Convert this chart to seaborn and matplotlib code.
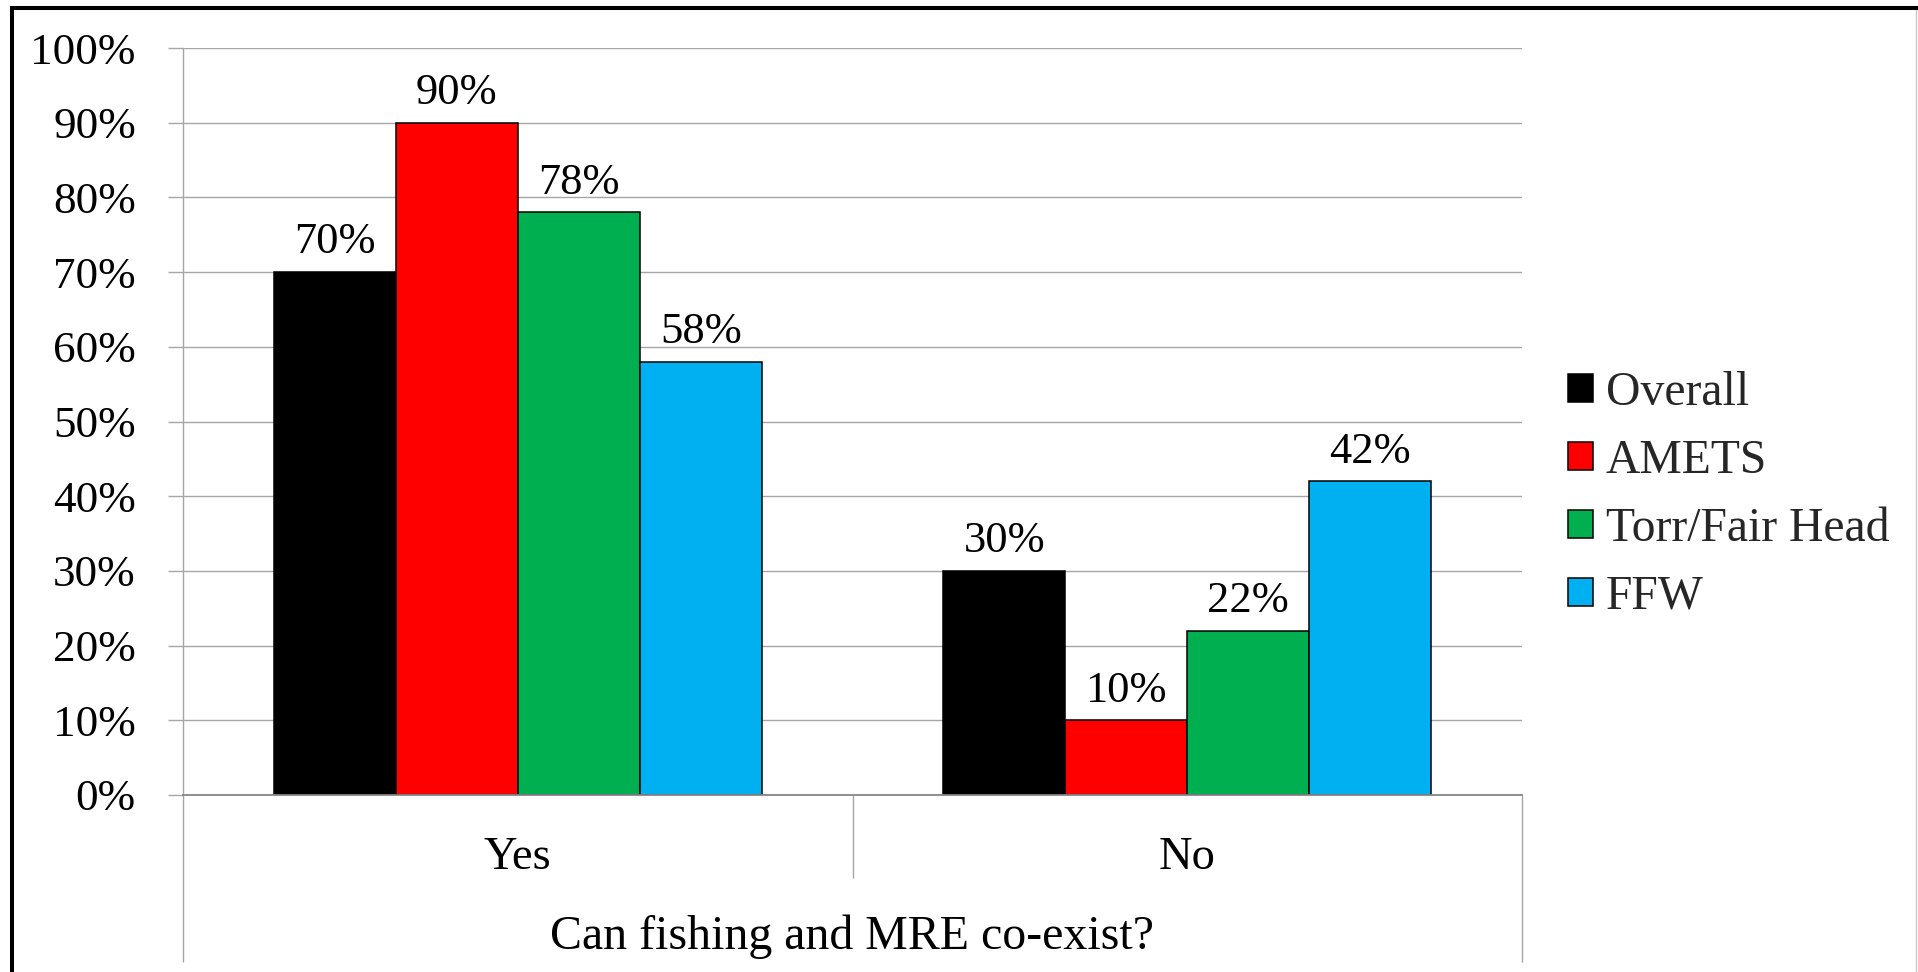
import matplotlib
matplotlib.use("Agg")
import matplotlib.pyplot as plt
import numpy as np
import pandas as pd
import seaborn as sns
from matplotlib.lines import Line2D
from matplotlib.patches import Patch

# Survey answers and the share of respondents per site (percent)
answers = ["Yes", "No"]
sites = ["Overall", "AMETS", "Torr/Fair Head", "FFW"]
overall = [70, 30]
amets = [90, 10]
torr_fair_head = [78, 22]
ffw = [58, 42]
site_colors = ["#000000", "#FF0000", "#00B050", "#00B0F0"]
y_ticks = [0, 10, 20, 30, 40, 50, 60, 70, 80, 90, 100]
question = "Can fishing and MRE co-exist?"

series = {"Overall": overall, "AMETS": amets,
          "Torr/Fair Head": torr_fair_head, "FFW": ffw}
df = pd.DataFrame(
    [(ans, site, vals[i]) for site, vals in series.items()
     for i, ans in enumerate(answers)],
    columns=["answer", "site", "share"],
)

sns.set_theme(style="white")
plt.rcParams["font.family"] = ["Liberation Serif", "DejaVu Serif"]

W, H = 1918, 972
fig = plt.figure(figsize=(W / 100, H / 100), dpi=100)
fig.patch.set_facecolor("white")

# plot area in pixel terms
x0, x1, y_top, y_base = 183, 1522, 48, 795
ax = fig.add_axes([x0 / W, 1 - y_base / H, (x1 - x0) / W, (y_base - y_top) / H])

grid_gray = "#A6A6A6"
axis_gray = "#868686"
fs_tick = 32.5
fs_val = 32
fs_cat = 33.5
fs_title = 34.5
fs_leg = 34.3

sns.barplot(
    data=df, x="answer", y="share", hue="site",
    order=answers, hue_order=sites, palette=site_colors,
    width=0.729, saturation=1, edgecolor="black", linewidth=1.1,
    errorbar=None, legend=False, ax=ax,
)

ax.set_xlim(-0.5, 1.5)
ax.set_ylim(0, 100)
ax.set_xlabel("")
ax.set_ylabel("")
ax.set_facecolor("white")

# horizontal gridlines behind the bars
ax.set_axisbelow(True)
ax.yaxis.grid(True, color=grid_gray, linewidth=1.0)
ax.xaxis.grid(False)

for side in ("top", "right"):
    ax.spines[side].set_visible(False)
ax.spines["left"].set_color(grid_gray)
ax.spines["left"].set_linewidth(1.0)
ax.spines["bottom"].set_color(axis_gray)
ax.spines["bottom"].set_linewidth(1.3)

ax.set_yticks(y_ticks)
ax.set_yticklabels([f"{t}%" for t in y_ticks])
ax.tick_params(axis="y", left=True, length=11, width=1.0, color=grid_gray,
               pad=23, labelsize=fs_tick, labelcolor="black")
ax.set_xticks([])

# value labels above each bar
for cont in ax.containers:
    ax.bar_label(cont, fmt="%.0f%%", padding=7, fontsize=fs_val, color="black")

# category labels and the multi-level category axis
xt = ax.get_xaxis_transform()
span = y_base - y_top
for i, ans in enumerate(answers):
    ax.text(i, -(869 - y_base) / span, ans, transform=xt, ha="center",
            va="baseline", fontsize=fs_cat, color="black")
ax.text(0.5, -(949 - y_base) / span, question, transform=xt, ha="center",
        va="baseline", fontsize=fs_title, color="black")

long_drop = -(962 - y_base) / span
short_drop = -(878 - y_base) / span
for xv, yd in ((-0.5, long_drop), (0.5, short_drop), (1.5, long_drop)):
    ax.plot([xv, xv], [0, yd], transform=xt, color=grid_gray, lw=1.0,
            clip_on=False, solid_capstyle="butt")

# legend on the right
handles = [Patch(facecolor=c, edgecolor="black", linewidth=1.1) for c in site_colors]
fig.legend(handles, sites, loc="center left",
           bbox_to_anchor=(1568 / W, 1 - 495 / H), frameon=False,
           fontsize=fs_leg, borderpad=0, borderaxespad=0,
           handlelength=0.53, handleheight=0.53, handletextpad=0.26,
           labelspacing=0.50)

# chart frame: thick black edge on left and top, thin gray edge on right
fig.add_artist(Line2D([12 / W, 12 / W, 1.01], [-0.01, 1 - 8 / H, 1 - 8 / H],
                      transform=fig.transFigure, color="black", lw=2.9,
                      solid_joinstyle="miter"))
fig.add_artist(Line2D([1916 / W, 1916 / W], [0, 1 - 10 / H],
                      transform=fig.transFigure, color="#C8C8C8", lw=1.0))

fig.savefig("out.png", dpi=100, facecolor="white")
